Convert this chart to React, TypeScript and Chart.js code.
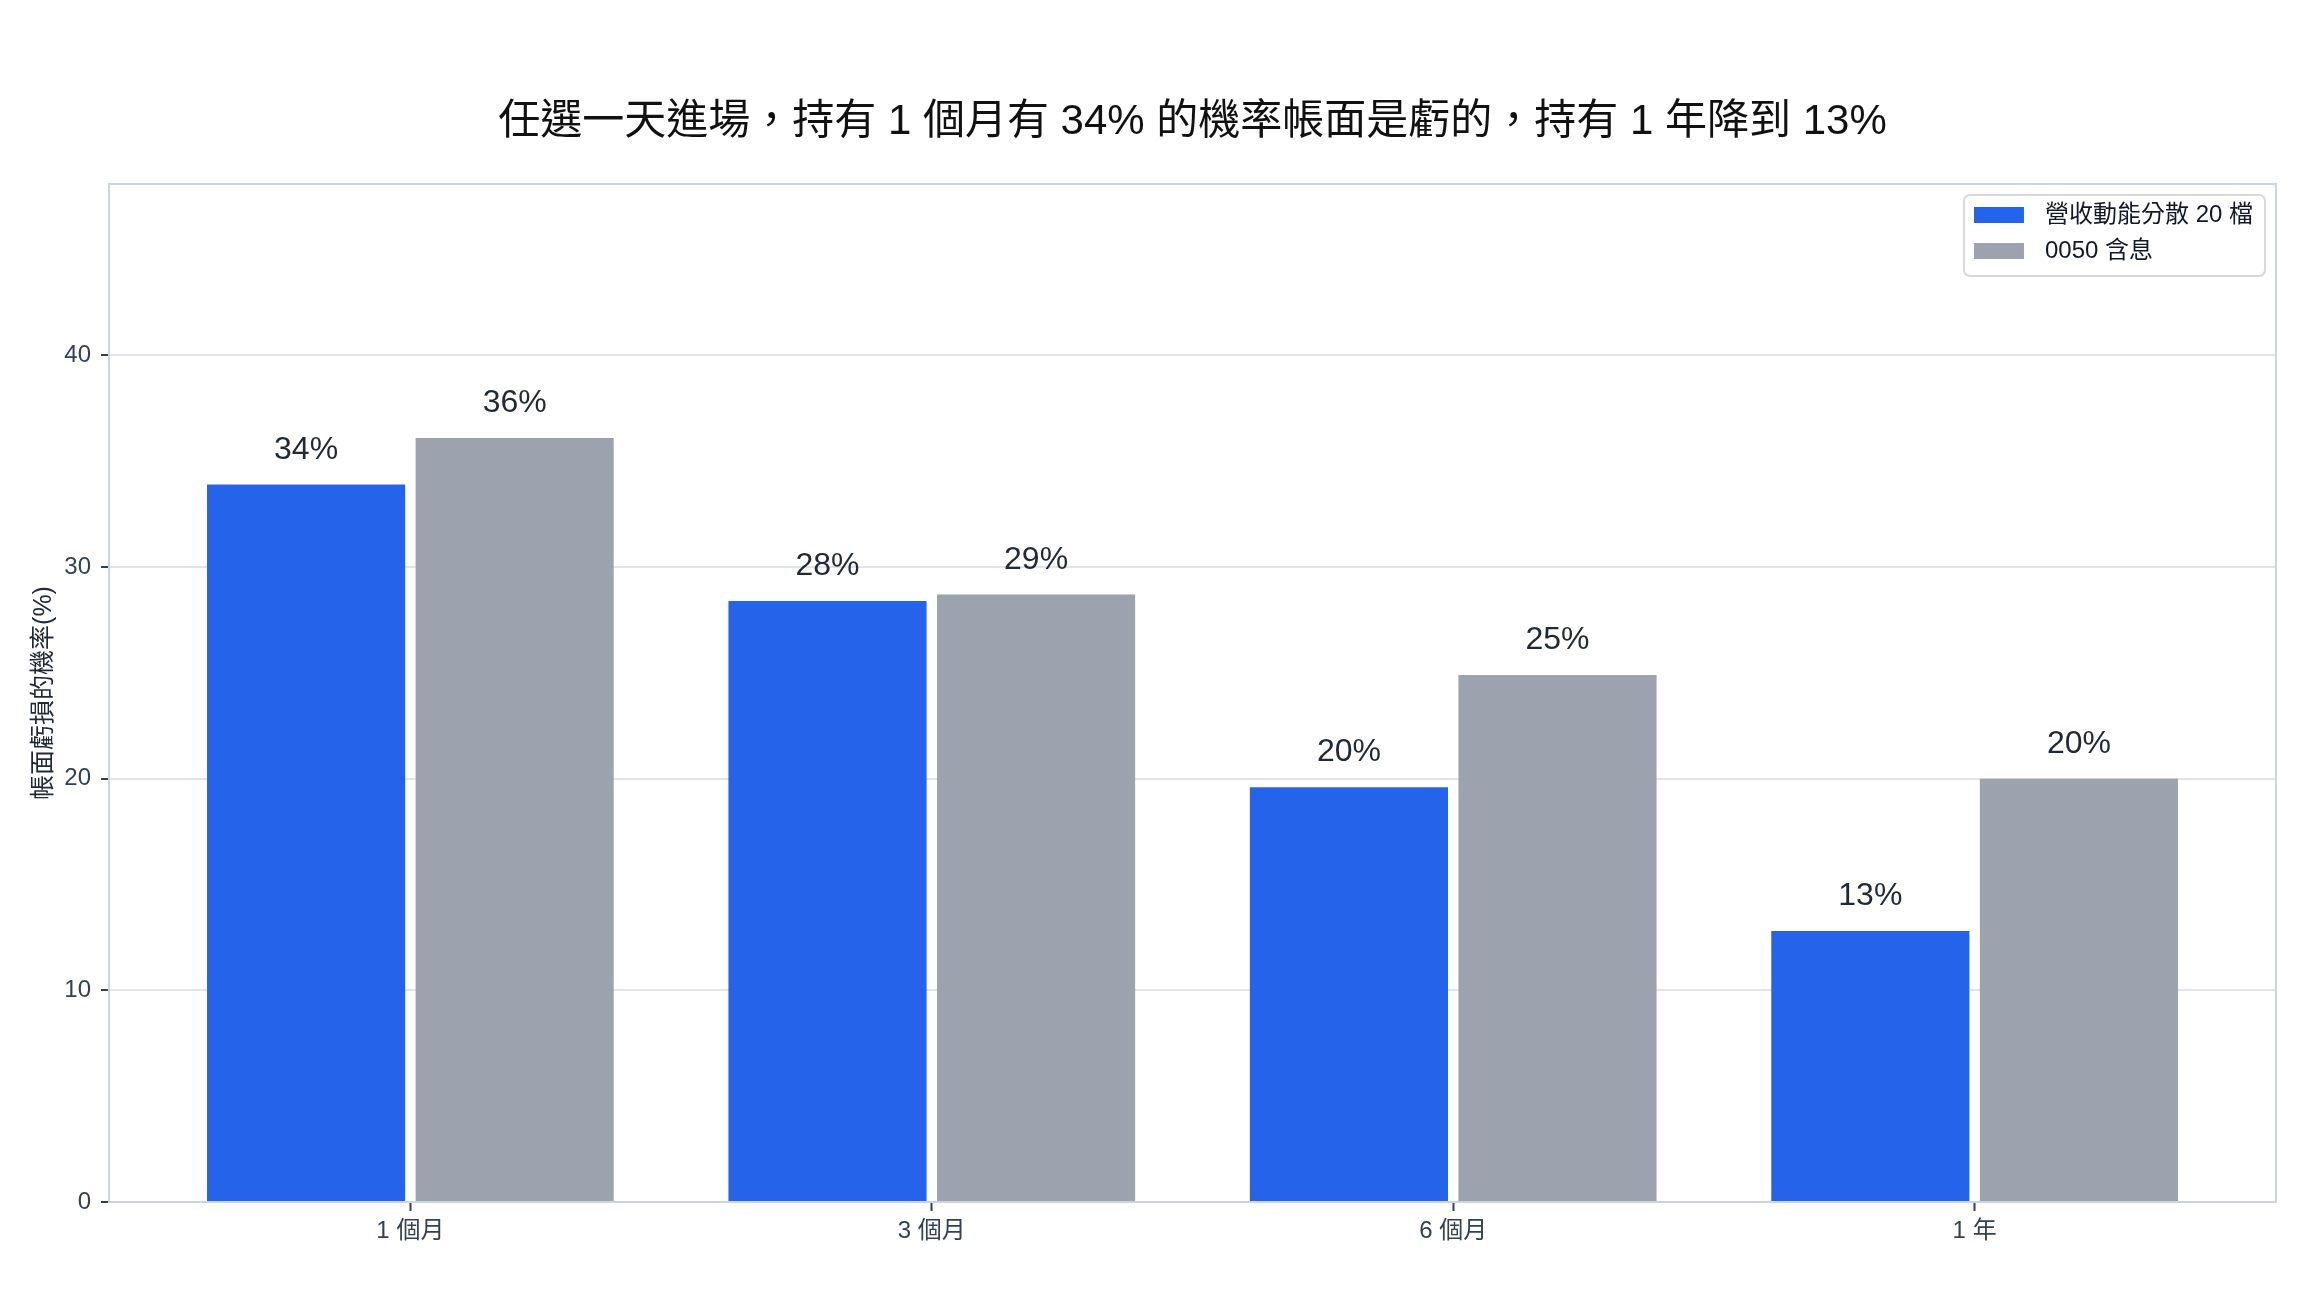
import { useEffect, useRef } from "react"
import { Chart, registerables } from "chart.js"

Chart.register(...registerables)

// categories and series (percent of start days that show a paper loss)
const categories = ["1 個月", "3 個月", "6 個月", "1 年"]
const seriesNames = ["營收動能分散 20 檔", "0050 含息"]
const momentumValues = [33.9, 28.4, 19.6, 12.8]
const etfValues = [36.1, 28.7, 24.9, 20.0]
const seriesColors = ["#2563eb", "#9ca3af"]
const yTicks = [0, 10, 20, 30, 40]

const FONT = "'Liberation Sans', 'Noto Sans CJK TC', sans-serif"
const TITLE = "任選一天進場，持有 1 個月有 34% 的機率帳面是虧的，持有 1 年降到 13%"

// title centred over the plot area, not the whole canvas
const plotTitle = {
  id: "plotTitle",
  afterDraw(chart: Chart) {
    const { ctx, chartArea } = chart
    ctx.save()
    ctx.font = `42px ${FONT}`
    ctx.fillStyle = "#111111"
    ctx.textAlign = "center"
    ctx.textBaseline = "middle"
    ctx.fillText(TITLE, (chartArea.left + chartArea.right) / 2, 122)
    ctx.restore()
  },
}

// percentage labels above each bar
const valueLabels = {
  id: "valueLabels",
  afterDatasetsDraw(chart: Chart) {
    const ctx = chart.ctx
    ctx.save()
    ctx.font = `32px ${FONT}`
    ctx.fillStyle = "#1f2937"
    ctx.textAlign = "center"
    ctx.textBaseline = "alphabetic"
    chart.data.datasets.forEach((ds, i) => {
      const meta = chart.getDatasetMeta(i)
      meta.data.forEach((bar, j) => {
        const v = (ds.data[j] as { y: number }).y
        ctx.fillText(`${Math.round(v)}%`, bar.x, bar.y - 26)
      })
    })
    ctx.restore()
  },
}

// full box around the plot area
const frame = {
  id: "frame",
  afterDraw(chart: Chart) {
    const { ctx, chartArea } = chart
    ctx.save()
    ctx.strokeStyle = "#cbd5e1"
    ctx.lineWidth = 2
    ctx.strokeRect(chartArea.left, chartArea.top, chartArea.right - chartArea.left, chartArea.bottom - chartArea.top)
    ctx.restore()
  },
}

// legend inside the plot, top right
const legendBox = {
  id: "legendBox",
  afterDraw(chart: Chart) {
    const { ctx, chartArea } = chart
    ctx.save()
    ctx.font = `24px ${FONT}`
    const textW = Math.max(...seriesNames.map((n) => ctx.measureText(n).width))
    const w = 10 + 50 + 21 + textW + 12
    const h = 81
    const x = chartArea.right - 11 - w
    const y = chartArea.top + 11
    ctx.beginPath()
    ctx.roundRect(x, y, w, h, 6)
    ctx.fillStyle = "rgba(255,255,255,0.85)"
    ctx.fill()
    ctx.strokeStyle = "#d9d9d9"
    ctx.lineWidth = 2
    ctx.stroke()
    ctx.textBaseline = "middle"
    ctx.textAlign = "left"
    seriesNames.forEach((name, i) => {
      const rowY = y + 20 + i * 36
      ctx.fillStyle = seriesColors[i]
      ctx.fillRect(x + 10, rowY - 8, 50, 16)
      ctx.fillStyle = "#111827"
      ctx.fillText(name, x + 81, rowY)
    })
    ctx.restore()
  },
}

export default function App() {
  const chartRef = useRef<HTMLCanvasElement>(null)
  const chartInstance = useRef<Chart | null>(null)

  useEffect(() => {
    if (!chartRef.current) return
    if (chartInstance.current) chartInstance.current.destroy()
    const ctx = chartRef.current.getContext("2d")
    if (!ctx) return

    Chart.defaults.font.family = FONT

    chartInstance.current = new Chart(ctx, {
      type: "bar",
      data: {
        datasets: [
          {
            label: seriesNames[0],
            data: momentumValues.map((y, i) => ({ x: i, y })),
            backgroundColor: seriesColors[0],
            categoryPercentage: 0.8,
            barPercentage: 0.95,
          },
          {
            label: seriesNames[1],
            data: etfValues.map((y, i) => ({ x: i, y })),
            backgroundColor: seriesColors[1],
            categoryPercentage: 0.8,
            barPercentage: 0.95,
          },
        ],
      },
      options: {
        animation: false,
        responsive: true,
        maintainAspectRatio: false,
        layout: { padding: { left: 0, right: 28, top: 184, bottom: 0 } },
        plugins: {
          legend: { display: false },
          tooltip: { enabled: false },
          title: { display: false },
        },
        scales: {
          x: {
            type: "linear",
            min: -0.578,
            max: 3.578,
            offset: false,
            afterBuildTicks: (axis) => {
              axis.ticks = categories.map((_, i) => ({ value: i }))
            },
            afterFit: (scale) => {
              scale.height = 94
            },
            grid: {
              drawOnChartArea: false,
              offset: false,
              tickLength: 9,
              tickColor: "#334155",
              tickWidth: 2,
            },
            border: { color: "#cbd5e1", width: 2 },
            ticks: {
              callback: (value) => categories[value as number] ?? "",
              color: "#334155",
              font: { size: 24 },
              padding: 6,
              maxRotation: 0,
              autoSkip: false,
            },
          },
          y: {
            min: 0,
            max: 48.1,
            z: 1,
            afterBuildTicks: (axis) => {
              axis.ticks = yTicks.map((v) => ({ value: v }))
            },
            afterFit: (scale) => {
              scale.width = 109
            },
            grid: {
              color: "#e2e4e9",
              lineWidth: 2,
              tickColor: "#334155",
              tickLength: 8,
              tickWidth: 2,
            },
            border: { color: "#cbd5e1", width: 2 },
            ticks: {
              color: "#334155",
              font: { size: 24 },
              padding: 10,
            },
            title: {
              display: true,
              text: "帳面虧損的機率(%)",
              color: "#1f2937",
              font: { size: 25 },
              padding: { top: 29, bottom: 0 },
            },
          },
        },
      },
      plugins: [valueLabels, frame, legendBox, plotTitle],
    })

    return () => {
      if (chartInstance.current) {
        chartInstance.current.destroy()
        chartInstance.current = null
      }
    }
  }, [])

  return (
    <div style={{ position: "fixed", left: 0, top: 0, width: 2304, height: 1296, background: "#ffffff" }}>
      <canvas ref={chartRef} />
    </div>
  )
}
